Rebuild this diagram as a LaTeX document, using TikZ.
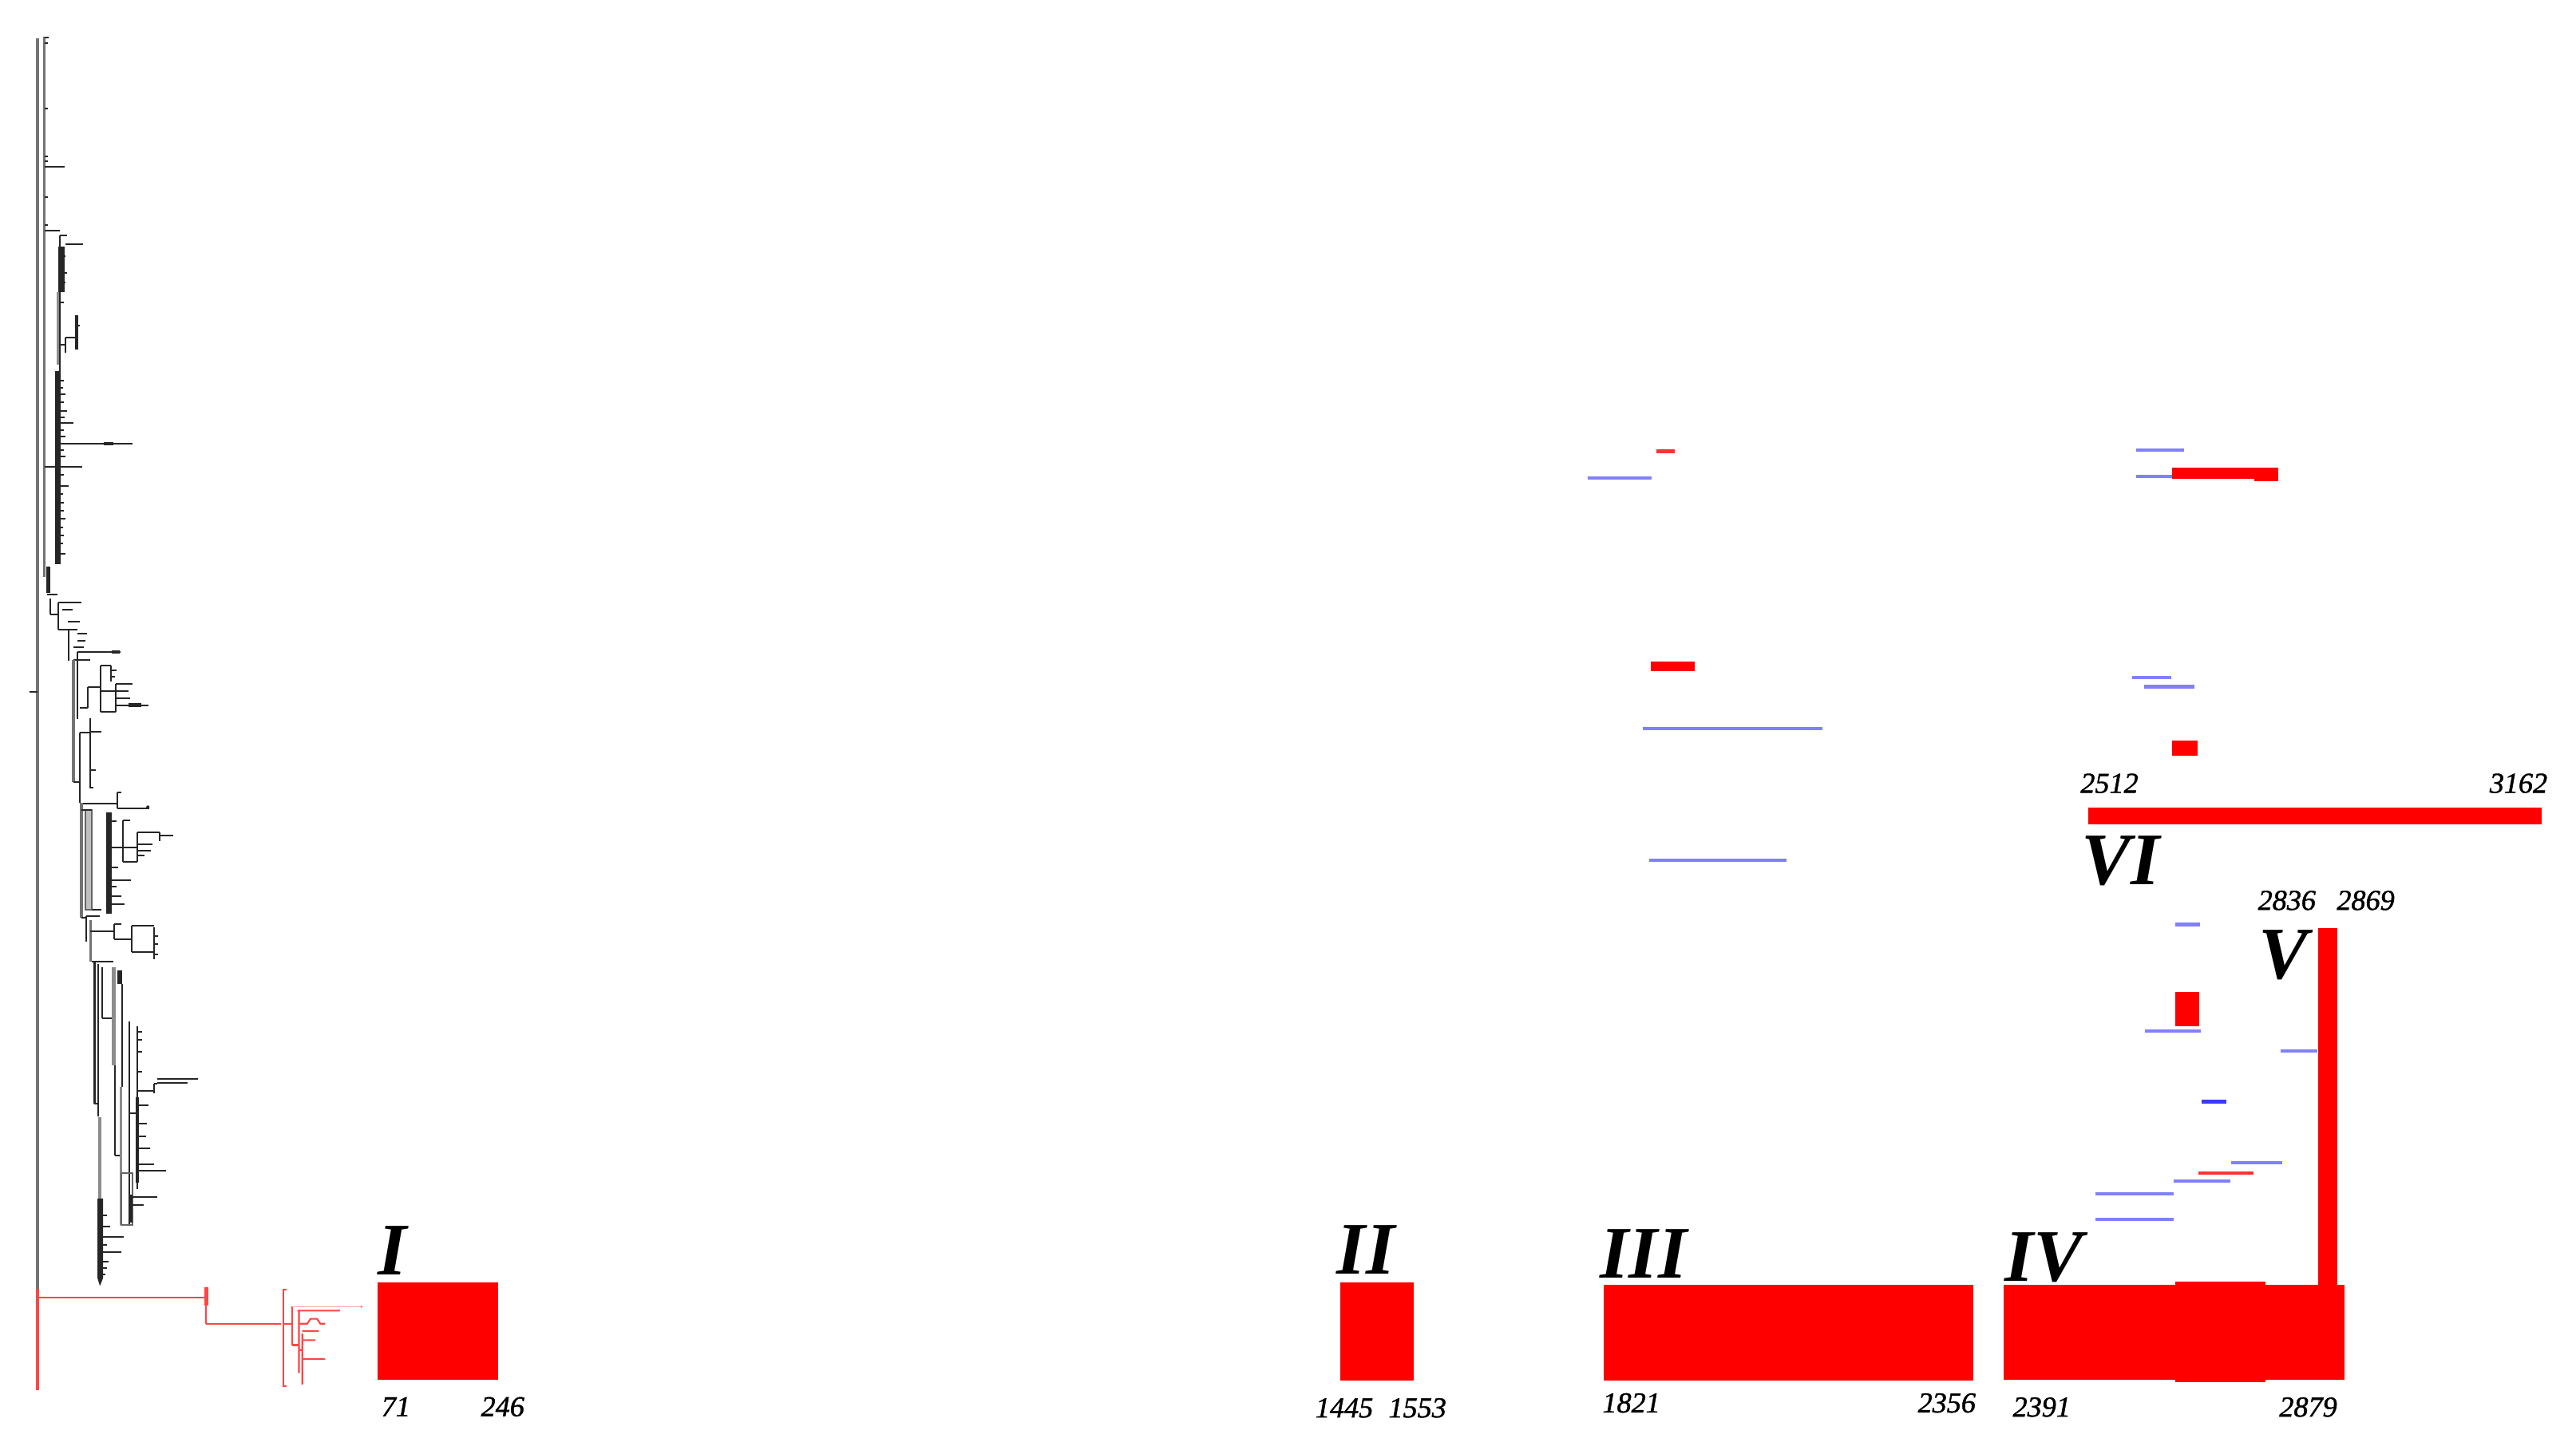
\documentclass[tikz,border=0pt]{standalone}
\usepackage{fontspec}
\newfontfamily\lsf{Liberation Serif}
\newfontfamily\lsfn[FakeBold=1.3]{Liberation Serif}
\definecolor{bluel}{HTML}{8080FF}
\definecolor{blued}{HTML}{3A3AFF}
\definecolor{redt}{HTML}{FF4545}
\tikzset{
  tr/.style={draw=black!85, line width=0.55pt},
  trk/.style={draw=black!55, line width=1.1pt},
  trd/.style={fill=black!85},
  trg/.style={fill=black!45},
  rt/.style={draw=redt, line width=0.6pt},
  bl/.style={draw=bluel, line width=1.15pt},
  bld/.style={draw=blued, line width=1.4pt},
  rbox/.style={fill=red},
  num/.style={font=\lsfn\itshape\fontsize{10}{12}\selectfont, inner sep=0pt, anchor=base},
  rom/.style={font=\lsf\bfseries\itshape\fontsize{25.7}{30}\selectfont, inner sep=0pt, anchor=base},
}
\begin{document}
\begin{tikzpicture}[x=0.02cm, y=-0.02cm]
\useasboundingbox (0,0) rectangle (1568,880);
\fill[white] (0,0) rectangle (1568,880);

% ---------------- tree (black part) ----------------
\draw[trk] (22.7,23.5) -- (22.7,784.8);
\draw[tr] (17.8,421.2) -- (22.7,421.2);
\draw[trk, line width=0.9pt] (27,22.3) -- (27,351.5);
\draw[tr] (27,23) -- (29.5,23) (27,26) -- (29,26) (27,66) -- (29,66) (27,95) -- (29,95) (27,98) -- (29,98)
          (27,120) -- (29,120) (27,137) -- (29,137);
\draw[tr] (27,101.6) -- (39.4,101.6) (27,140.6) -- (36.4,140.6);
% clade A
\draw[tr] (36.4,143.3) -- (36.4,343.4) (36.4,143.3) -- (40.8,143.3) (39.7,148.7) -- (50.5,148.7);
\fill[trd] (35.5,150) rectangle (39.5,178);
\fill[trg] (34.3,178) rectangle (36,222);
\fill[trd] (33.7,226) rectangle (37,343.4);
\draw[tr] (36,210) -- (39.7,210) (39.7,205.7) -- (39.7,214.6) (39.7,205.7) -- (46.6,205.7);
\draw[tr, line width=1pt] (46.6,192) -- (46.6,213);
\draw[tr] (46.6,198) -- (48.5,198) (36.5,166) -- (41,166) (36.5,172) -- (40,172)
          (36.5,156) -- (40,156) (36.5,160) -- (39.5,160) (36.5,184) -- (39,184);
\draw[tr] (36,257.6) -- (44.5,257.6) (36,270.2) -- (80.7,270.2) (27,284.3) -- (50.2,284.3)
          (36,296) -- (42,296) (36,232) -- (39,232) (36,240) -- (40,240) (36,250) -- (41,250)
          (36,262) -- (39,262) (36,278) -- (40,278) (36,306) -- (39,306) (36,316) -- (40,316)
          (36,326) -- (39,326) (36,337) -- (40,337) (36,236) -- (38.5,236) (36,245) -- (39,245)
          (36,254) -- (39.5,254) (36,266) -- (40,266) (36,274) -- (39,274) (36,289) -- (39,289)
          (36,301) -- (38.5,301) (36,311) -- (39,311) (36,321) -- (38.5,321) (36,331) -- (38.5,331);
\draw[tr, line width=1.3pt] (63,270.2) -- (69,270.2);
% lower staircase
\fill[trd] (28,345) rectangle (30.5,361);
\draw[tr] (28.8,362) -- (34.8,362) (30.8,364.5) -- (30.8,374.2) (30.8,374.2) -- (35.6,374.2)
          (35.6,367) -- (49.4,367) (35.6,367) -- (35.6,383.6) (35.6,383.6) -- (41.8,383.6)
          (38,371) -- (44,371) (41.3,378.7) -- (48.6,378.7)
          (41.8,383.6) -- (41.8,402.5) (41.8,383.6) -- (47,383.6) (47,386) -- (53,386)
          (47,390) -- (52,390) (44.5,394) -- (51,394);
\draw[tr] (47,396.9) -- (73.2,396.9) (47,396.9) -- (47,438);
\draw[tr, line width=1.3pt] (68,396.9) -- (73,396.9);
\draw[tr] (48.6,401.7) -- (55,401.7) (44.5,401.7) -- (48.6,401.7);
\draw[trk] (44.5,401.7) -- (44.5,476.2);
\draw[tr] (44.5,476.2) -- (48.6,476.2);
\draw[tr] (48.6,430.9) -- (53.4,430.9) (53.4,418.2) -- (53.4,430.9) (53.4,418.2) -- (61.2,418.2)
          (61.2,405) -- (61.2,433.3) (61.2,405) -- (67.7,405) (67.7,405) -- (67.7,415)
          (67.7,408) -- (71,408) (67.7,412) -- (70,412)
          (61.2,420.7) -- (70.5,420.7) (70.5,416.3) -- (70.5,433.3) (70.5,416.3) -- (80.5,416.3)
          (70.5,421) -- (78,421) (70.5,425) -- (79,425) (61.2,433.3) -- (70.5,433.3)
          (70.5,429.3) -- (90.4,429.3);
\draw[tr, line width=1.3pt] (78,429.3) -- (86,429.3);
% middle
\draw[tr] (48.6,446) -- (48.6,489) (48.6,446) -- (55.1,446) (55.1,437.3) -- (55.1,480)
          (55.1,445.4) -- (61.5,445.4) (55.1,468.9) -- (58.3,468.9) (55.1,479.5) -- (57,479.5);
\draw[tr] (49.4,489.1) -- (71.3,489.1) (71.3,482.7) -- (71.3,492.4) (71.3,482.7) -- (74,482.7)
          (71.3,492.4) -- (90.7,492.4);
\fill[trd] (90,491.4) circle (1);
\draw[trk] (49.4,489) -- (49.4,558.8);
\draw[black!60, line width=0.5pt, fill=black!25] (51.8,493) rectangle (55.9,554);
\draw[tr] (55.9,554) -- (61.5,554) (49.4,493) -- (55.9,493);
\fill[trd] (64.8,494.8) rectangle (68,556.3);
\draw[tr] (68,515.9) -- (74.8,515.9) (74.8,499.7) -- (74.8,524.8) (74.8,499.7) -- (79,499.7)
          (74.8,515.9) -- (83.4,515.9) (83.4,506.9) -- (83.4,524.8) (74.8,524.8) -- (83.4,524.8)
          (83.4,506.9) -- (97.2,506.9) (97.2,506.9) -- (97.2,512) (97.2,508.6) -- (105.3,508.6)
          (83.4,514) -- (93,514) (83.4,518) -- (92,518) (83.4,521) -- (88,521)
          (68,536.1) -- (79.7,536.1) (68,545.8) -- (73.7,545.8) (68,550.7) -- (76,550.7)
          (68,528) -- (72,528) (68,540) -- (71,540) (68,500) -- (71,500);
% lower middle
\draw[tr] (52.6,558) -- (52.6,573.4) (49.4,558.8) -- (52.6,558.8) (52.6,558) -- (60.7,558);
\draw[trk, line width=0.9pt] (55.1,560) -- (55.1,585.5);
\draw[tr] (55.1,566.9) -- (69.6,566.9) (69.6,562.8) -- (69.6,571.7) (69.6,562.8) -- (74,562.8)
          (69.6,571.7) -- (80.2,571.7) (80.2,563.6) -- (80.2,579.8) (80.2,563.6) -- (93.6,563.6)
          (80.2,579.8) -- (94,579.8) (94,564.5) -- (94,583.9) (94,570) -- (96.4,570)
          (94,575) -- (96.4,575) (94,581) -- (96,581);
\draw[tr] (55.9,585.5) -- (68.8,585.5);
\fill[trd] (56.7,585.5) rectangle (58.3,672.2);
\draw[tr] (59.9,587) -- (59.9,680) (62.4,589) -- (62.4,620) (62.4,620) -- (68,620)
          (57.5,672.2) -- (60,672.2);
\fill[trg] (68,588.8) rectangle (70.5,648.7);
\draw[tr] (70,648.7) -- (70,703.8) (70,703.8) -- (73.7,703.8);
\fill[trd] (71.3,591) rectangle (74.5,599);
\draw[tr] (74.5,599) -- (74.5,661.7) (78.6,622) -- (78.6,745.9) (83.4,625) -- (83.4,724)
          (83.4,628.4) -- (86.7,628.4) (83.4,633.3) -- (86.7,633.3) (83.4,640.6) -- (86.7,640.6)
          (83.4,652.7) -- (86.7,652.7);
\fill[trd] (82.6,668) rectangle (84.6,720);
\fill[trg] (72.9,661.7) rectangle (74.5,745.9);
\fill[trg] (60,680.3) rectangle (61.8,729.7);
\fill[trd] (59.3,729.7) -- (62.8,729.7) -- (62.8,778) -- (60.8,783) -- (59.3,778) -- cycle;
\draw[black!60, line width=0.5pt] (73.7,714.3) rectangle (80.5,745.9);
\fill[trd] (78.9,727.3) rectangle (80.7,744.3);
\draw[tr] (80.5,728.9) -- (95.6,728.9) (80.5,733.8) -- (87.5,733.8)
          (83.4,673) -- (90.4,673) (83.4,683.9) -- (89.6,683.9) (83.4,692) -- (88.8,692)
          (83.4,699) -- (91.5,699) (83.4,712.7) -- (101.2,712.7) (83.4,709) -- (94,709)
          (83.4,664.1) -- (94,664.1) (94,660) -- (94,665.7) (94,660) -- (95.6,660)
          (95.6,657) -- (120.7,657) (95.6,659.2) -- (114,659.2) (78.9,677.9) -- (83.4,677.9)
          (62.4,746.7) -- (67.2,746.7) (62.4,753.2) -- (75.3,753.2) (62.4,762.6) -- (73.7,762.6)
          (62.4,740) -- (65,740) (62.4,758) -- (65,758) (62.4,768) -- (66,768)
          (62.4,772) -- (65,772) (62.4,776) -- (64,776);

% ---------------- tree (red part) ----------------
\draw[rt, line width=1pt] (22.7,784.8) -- (22.7,846.3);
\draw[rt] (22.7,790) -- (125.4,790);
\draw[rt] (125.4,784) -- (125.4,806) (125.4,806) -- (171,806);
\fill[redt] (124.6,783.5) rectangle (126.6,795);
\draw[rt] (174.5,785) -- (172.3,785) -- (172.3,844) -- (174.5,844);
\draw[rt] (172.3,806) -- (177.7,806) (177.7,795.6) -- (177.7,819) (177.7,819) -- (182,819);
\draw[redt!45, line width=0.5pt] (177.7,795.6) -- (220,795.6);
\fill[redt!60] (220,795.6) circle (0.9);
\draw[rt] (181,798) -- (207,798) (182,798) -- (182,836) (184,812) -- (184,843)
          (182,806) -- (187,806) -- (189,803) -- (193,803) -- (195,806) -- (198,806)
          (184,810.5) -- (194,810.5) (184,816) -- (192,816) (184,827.5) -- (198,827.5)
          (182,822) -- (184,822);

% ---------------- red boxes ----------------
\fill[rbox] (230,781) rectangle (303,840);
\fill[rbox] (816,780.7) rectangle (860.6,840.4);
\fill[rbox] (976,782.4) rectangle (1201,840.4);
\fill[rbox] (1219.7,782.3) rectangle (1427,840.3);
\fill[rbox] (1324,780.4) rectangle (1379,841.5);
\fill[rbox] (1410.8,565) rectangle (1422.8,782.5);
\fill[rbox] (1271,491.6) rectangle (1547,502.1);
\fill[rbox] (1322.3,284.9) rectangle (1372,291.3);
\fill[rbox] (1372,284.9) rectangle (1386.7,292.9);
\fill[rbox] (1004.6,403) rectangle (1031.5,408.5);
\fill[red!80] (1008.1,273.6) rectangle (1019.2,276);
\fill[rbox] (1322.3,450.7) rectangle (1337.5,460);
\fill[rbox] (1324,603.8) rectangle (1338.6,624.9);
\draw[red!80, line width=1.15pt] (1338,714.3) -- (1371.5,714.3);

% ---------------- blue segments ----------------
\draw[bl] (966.5,291.1) -- (1005.5,291.1);
\draw[bl] (1300.3,274.2) -- (1329.6,274.2);
\draw[bl] (1300.3,290.1) -- (1322.3,290.1);
\draw[bl] (1298,412.5) -- (1321.4,412.5);
\draw[bl] (1305.3,418.1) -- (1335.5,418.1);
\draw[bl] (1000.2,443.7) -- (1109.4,443.7);
\draw[bl] (1004,523.8) -- (1087.5,523.8);
\draw[bl] (1324,562.9) -- (1339,562.9);
\draw[bl] (1305.4,627.6) -- (1339.4,627.6);
\draw[bl] (1388,639.8) -- (1410.7,639.8);
\draw[bld] (1340.2,670.6) -- (1355.3,670.6);
\draw[bl] (1358,707.8) -- (1389.3,707.8);
\draw[bl] (1323,719.2) -- (1357.6,719.2);
\draw[bl] (1275.4,726.9) -- (1323.2,726.9);
\draw[bl] (1275.5,742.6) -- (1323.3,742.6);

% ---------------- labels ----------------
\node[rom] (rI)   at (239,776)    {I};
\node[rom] (rII)  at (831.4,775.9) {II};
\node[rom] (rIII) at (1000.5,778.3) {III};
\node[rom] (rIV)  at (1244,780)   {IV};
\node[rom] (rV)   at (1390,596)   {V};
\node[rom] (rVI)  at (1290.7,538.6) {VI};

\node[num] (n71)   at (241,862.3)  {71};
\node[num] (n246)  at (306,862.3)  {246};
\node[num] (n1445) at (818.3,863)  {1445};
\node[num] (n1553) at (862.8,863)  {1553};
\node[num] (n1821) at (993,860)    {1821};
\node[num] (n2356) at (1185,860)   {2356};
\node[num] (n2391) at (1242.8,862.5) {2391};
\node[num] (n2879) at (1405,862.5) {2879};
\node[num] (n2512) at (1284,482.7) {2512};
\node[num] (n3162) at (1533,482.7) {3162};
\node[num] (n2836) at (1392,554)   {2836};
\node[num] (n2869) at (1440,554)   {2869};
\end{tikzpicture}
\end{document}
